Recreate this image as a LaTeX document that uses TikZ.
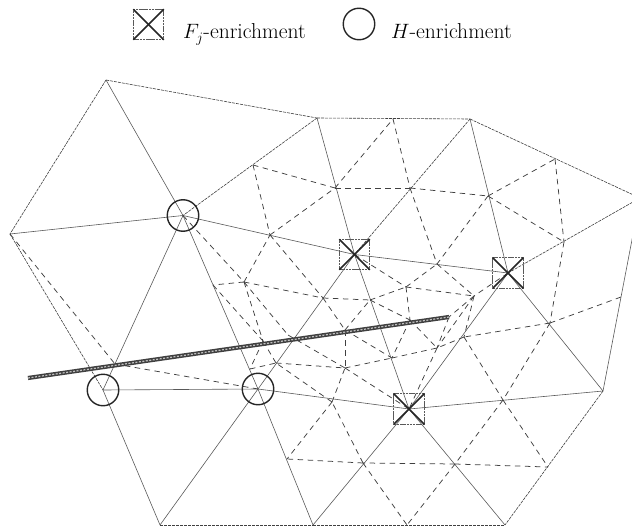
\documentclass[tikz,border=0pt]{standalone}
\tikzset{
  coarseedge/.style={line width=0.6pt,black!65},
  fineedge/.style={line width=0.6pt,black!75,dash pattern=on 3pt off 1pt},
  refedge/.style={line width=0.75pt,black!75,dash pattern=on 5.5pt off 4.5pt},
  sqmark/.style={draw=black!65,line width=0.6pt,dash pattern=on 2.5pt off 0.7pt,minimum size=30.5pt,inner sep=0pt,outer sep=0pt},
  crossline/.style={line width=1.5pt,black!85},
  circmark/.style={circle,draw=black!85,line width=1.4pt,minimum size=31.5pt,inner sep=0pt},
  legendtext/.style={inner sep=0pt,anchor=base west,font=\fontsize{21.6}{26}\selectfont},
  crackline/.style={line width=4.2pt,black!75},
  crackinner/.style={line width=1.2pt,black!25,dash pattern=on 2pt off 1.5pt}
}
\begin{document}
\begin{tikzpicture}[x=1pt,y=-1pt]
\useasboundingbox (0,0) rectangle (632,527);
\clip (0,0) rectangle (632,527);
% coarse vertices
\coordinate (A) at (106,80);
\coordinate (B) at (317,118);
\coordinate (C) at (470,119);
\coordinate (D) at (640,198);
\coordinate (E) at (10,234);
\coordinate (F) at (183,215.5);
\coordinate (G) at (354.5,254.5);
\coordinate (H) at (508,273);
\coordinate (I) at (603,391);
\coordinate (J) at (103,390);
\coordinate (K) at (258,389);
\coordinate (L) at (409,409);
\coordinate (M) at (160,525);
\coordinate (N) at (313,525);
\coordinate (O) at (505,525);
% refinement vertices
\coordinate (m1) at (253,165);
\coordinate (m2) at (270,235);
\coordinate (m3) at (335,188);
\coordinate (m4) at (393,119);
\coordinate (m5) at (410,188);
\coordinate (m6) at (488,196);
\coordinate (m7) at (555,159);
\coordinate (m8) at (564,242);
\coordinate (m9) at (550,323);
\coordinate (m10) at (621,297);
\coordinate (m11) at (464,337);
\coordinate (m12) at (503,400);
\coordinate (m13) at (455,464);
\coordinate (m14) at (363,463);
\coordinate (m15) at (548,467);
\coordinate (m16) at (407,525);
\coordinate (m17) at (332,402);
\coordinate (n1) at (244,282);
\coordinate (n2) at (213,285);
\coordinate (n3) at (323,298);
\coordinate (n4) at (263,341);
\coordinate (n5) at (250,369);
\coordinate (n6) at (288,335);
\coordinate (n7) at (276,363);
\coordinate (n8) at (345,368);
\coordinate (n9) at (115,364);
\coordinate (n11) at (345,330);
\coordinate (n12) at (370,300);
\coordinate (n13) at (406,287);
\coordinate (n14) at (474,296);
\coordinate (n15) at (437,264);
\coordinate (n16) at (437,348);
\coordinate (n17) at (449,317);
\coordinate (n18) at (410,320);
\coordinate (n19) at (392,358);
\coordinate (n20) at (287,459);
% legend anchors
\coordinate (sqleg) at (148.5,24.5);
\coordinate (circleg) at (359,24);
% coarse mesh
\foreach \a/\b in {A/F,B/G,C/H,E/F,F/G,G/H,F/J,F/K,J/K,G/K,G/L,K/L,H/L,H/I,L/I,J/M,K/M,K/N,L/N,L/O,I/D}
  \draw[coarseedge] (\a) -- (\b);
\foreach \a/\b in {A/E,A/B,B/C,C/D,E/J,C/G,I/O,M/N,N/O,H/D,B/F}
  \draw[fineedge] (\a) -- (\b);
% refined mesh
\foreach \a/\b in {m1/m3,m1/m2,m2/m3,m3/m4,m3/m5,m4/m5,m5/m6,m6/m7,m6/m8,m7/m8,m8/m9,
  m9/m10,m9/m11,m9/m12,m11/m12,m12/m13,m12/m15,m13/m15,m13/m14,m13/m16,m14/m16,m14/m17,m14/n20,
  m17/n20,m17/n8,m17/n7,F/n1,n1/n2,n1/m2,n1/n3,n1/n4,n1/n6,n2/n4,n4/n5,n4/n7,n5/n7,n7/n8,n6/n8,
  m2/n3,n3/n11,n3/n12,n11/n8,n11/n12,n11/n19,n8/n19,n8/L,n12/n13,n12/n18,G/n13,n13/n14,n13/n15,
  n13/n18,m5/n15,m6/n15,n15/n14,H/n14,n14/n17,n14/n16,n14/m11,n17/n16,n18/n16,n18/n19,n19/n16,
  m11/n16,n16/L,E/n9,n9/K}
  \draw[refedge] (\a) -- (\b);
% crack
\coordinate (c1) at (28,378);
\coordinate (c2) at (449,317);
\draw[crackline] (c1) -- (c2);
\draw[crackinner] (c1) -- (c2);
% enrichment markers
\node[circmark] (cF) at (F) {};
\node[circmark] (cJ) at (J) {};
\node[circmark] (cK) at (K) {};
\foreach \p in {G,H,L}{
  \node[sqmark] (s\p) at (\p) {};
  \draw[crossline] (s\p.north west) -- (s\p.south east);
  \draw[crossline] (s\p.north east) -- (s\p.south west);
}
% legend
\node[sqmark] (ls) at (sqleg) {};
\draw[crossline] (ls.north west) -- (ls.south east);
\draw[crossline] (ls.north east) -- (ls.south west);
\node[circmark] (lc) at (circleg) {};
\node[legendtext] (lt1) at (183,39) {$F_j$-enrichment};
\node[legendtext] (lt2) at (391,39) {$H$-enrichment};
\end{tikzpicture}
\end{document}
